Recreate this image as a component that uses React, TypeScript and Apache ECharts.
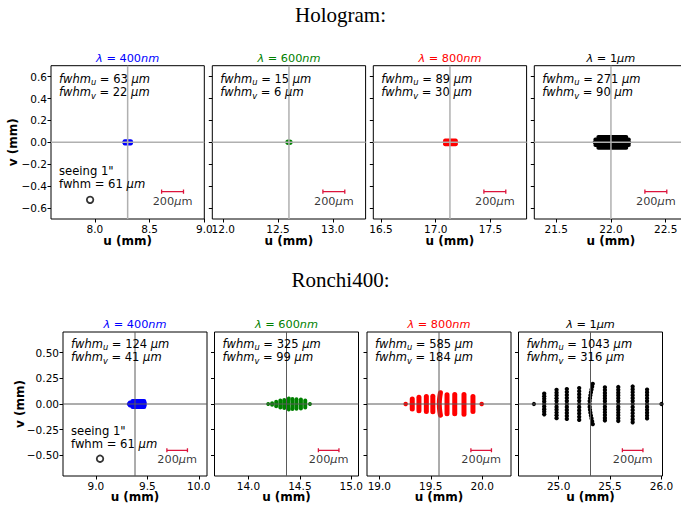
import React, { useEffect, useRef } from 'react';
import * as echarts from 'echarts';

// ---------------- data ----------------
const wavelengthValues = ['400', '600', '800', '1'];
const wavelengthUnits = ['nm', 'nm', 'nm', 'μm'];
const wavelengthColors = ['#0000ff', '#008000', '#ff0000', '#000000'];

// centre of each panel (mm) - each panel spans centre ± 0.7 mm in u and ± 0.7 mm in v
const hologramCenters = [8.3, 12.6, 17.13, 22.0];
const ronchiCenters = [9.38, 14.37, 19.58, 25.31];
const halfSpan = 0.7;

const hologramXTicks = [[8.0, 8.5, 9.0], [12.0, 12.5, 13.0], [16.5, 17.0, 17.5], [21.5, 22.0, 22.5]];
const ronchiXTicks = [[9.0, 9.5, 10.0], [14.0, 14.5, 15.0], [19.0, 19.5, 20.0], [25.0, 25.5, 26.0]];
const hologramYTicks = [-0.6, -0.4, -0.2, 0, 0.2, 0.4, 0.6];
const ronchiYTicks = [-0.5, -0.25, 0, 0.25, 0.5];

const hologramFwhmU = [63, 15, 89, 271];
const hologramFwhmV = [22, 6, 30, 90];
const ronchiFwhmU = [124, 325, 585, 1043];
const ronchiFwhmV = [41, 99, 184, 316];

const seeingArcsec = 1;
const seeingFwhm = 61;
const seeingHologram: [number, number] = [7.957, -0.525];
const seeingRonchi: [number, number] = [9.04, -0.532];

const scaleBarLabel = 200; // µm
const scaleBarLength = 0.2; // mm
const scaleBarStart = 0.31; // mm right of centre
const scaleBarV = -0.45;
const scaleBarCap = 0.02;
const scaleBarTextV = -0.54;

// Hologram spots (strokes composing each compact spot)
const hologram400 = [
  [[8.273, 0.01], [8.329, 0.01]],
  [[8.269, 0], [8.333, 0]],
  [[8.273, -0.01], [8.329, -0.01]],
];
const hologram600 = [[[12.592, 0], [12.608, 0]]];
const hologram800 = [
  [[17.086, 0.017], [17.183, 0.017]],
  [[17.082, 0], [17.187, 0]],
  [[17.086, -0.017], [17.183, -0.017]],
];
const hologram1um = [
  [[21.885, 0.05], [22.14, 0.05]],
  [[21.858, 0.025], [22.163, 0.025]],
  [[21.851, 0], [22.167, 0]],
  [[21.858, -0.025], [22.163, -0.025]],
  [[21.885, -0.05], [22.14, -0.05]],
];

// Ronchi400 spots
const ronchi400 = [
  [[9.355, 0.03], [9.47, 0.03]],
  [[9.33, 0.015], [9.474, 0.015]],
  [[9.319, 0], [9.474, 0]],
  [[9.33, -0.015], [9.474, -0.015]],
  [[9.355, -0.03], [9.47, -0.03]],
];
const ronchi600 = [
  [[14.23, 0.008], [14.23, -0.008]],
  [[14.27, 0.023], [14.27, -0.023]],
  [[14.31, 0.033], [14.31, -0.033]],
  [[14.348, 0.04], [14.348, -0.04]],
  [[14.392, 0.053], [14.388, 0.025], [14.387, 0], [14.388, -0.025], [14.392, -0.053]],
  [[14.428, 0.048], [14.428, -0.048]],
  [[14.467, 0.046], [14.467, -0.046]],
  [[14.51, 0.043], [14.51, -0.043]],
  [[14.552, 0.033], [14.552, -0.033]],
];
const ronchi600Dots = [[14.192, 0], [14.598, 0]];
const ronchi800 = [
  [[19.32, 0.049], [19.32, -0.049]],
  [[19.385, 0.065], [19.385, -0.065]],
  [[19.457, 0.073], [19.457, -0.073]],
  [[19.52, 0.076], [19.52, -0.076]],
  [[19.594, 0.11], [19.586, 0.055], [19.583, 0], [19.586, -0.055], [19.594, -0.11]],
  [[19.658, 0.09], [19.658, -0.096]],
  [[19.733, 0.093], [19.733, -0.096]],
  [[19.823, 0.093], [19.823, -0.1]],
  [[19.91, 0.073], [19.91, -0.073]],
];
const ronchi800Dots = [[19.256, 0], [19.995, 0]];
const ronchi1umColumns = [
  { u: 24.86, v: [0.1, 0.075, 0.05, 0.025, 0, -0.025, -0.05, -0.075, -0.1] },
  { u: 24.98, v: [0.138, 0.11, 0.083, 0.055, 0.028, 0, -0.028, -0.055, -0.083, -0.11, -0.138] },
  { u: 25.08, v: [0.145, 0.116, 0.087, 0.058, 0.029, 0, -0.029, -0.058, -0.087, -0.116, -0.145] },
  { u: 25.2, v: [0.155, 0.124, 0.093, 0.062, 0.031, 0, -0.031, -0.062, -0.093, -0.124, -0.155] },
  { u: 25.45, v: [0.162, 0.135, 0.108, 0.081, 0.054, 0.027, 0, -0.027, -0.054, -0.081, -0.108, -0.135, -0.16] },
  { u: 25.58, v: [0.165, 0.138, 0.11, 0.083, 0.055, 0.028, 0, -0.028, -0.055, -0.083, -0.11, -0.138, -0.165] },
  { u: 25.72, v: [0.17, 0.142, 0.114, 0.085, 0.057, 0.028, 0, -0.03, -0.06, -0.09, -0.12, -0.15, -0.178] },
  { u: 25.86, v: [0.14, 0.112, 0.084, 0.056, 0.028, 0, -0.028, -0.056, -0.084, -0.112, -0.14] },
];
const ronchi1umCurvedColumn = [
  [25.332, 0.196], [25.326, 0.168], [25.32, 0.14], [25.314, 0.112], [25.309, 0.084], [25.305, 0.056],
  [25.302, 0.028], [25.301, 0], [25.302, -0.028], [25.305, -0.056], [25.309, -0.084], [25.314, -0.112],
  [25.32, -0.14], [25.326, -0.168], [25.332, -0.196],
];
const ronchi1umEndDots = [[24.76, 0], [26.0, 0]];

// ---------------- layout (pixels) ----------------
const W = 681;
const H = 513;
const topLefts = [51, 212.3, 373.3, 534.3];
const topTop = 65.7;
const topSize = 153.3;
const botLefts = [63, 214.5, 367, 518.5];
const botTop = 332;
const botSize = 144;
const FF = '"DejaVu Sans"';

const minus = (s: string) => s.replace('-', '\u2212');
const fmt = (d: number) => (v: number) => minus((Math.abs(v) < 1e-9 ? 0 : v).toFixed(d));

export default function App() {
  const ref = useRef<HTMLDivElement>(null);

  useEffect(() => {
    const el = ref.current!;
    const chart = echarts.init(el, null, { renderer: 'svg', width: W, height: H });
    const canvas = document.createElement('canvas');
    const ctx = canvas.getContext('2d')!;
    const measure = (t: string, font: string) => {
      ctx.font = font;
      return ctx.measureText(t).width;
    };
    const fontOf = (kind: string, size: number) =>
      kind === 'i'
        ? `italic ${size}px ${FF}`
        : kind === 's'
        ? `italic ${(size * 0.72).toFixed(1)}px ${FF}`
        : kind === 'b'
        ? `bold ${size}px ${FF}`
        : `${size}px ${FF}`;

    const runs = (
      x0: number,
      y: number,
      parts: [string, string][],
      color: string,
      size: number,
      align: 'left' | 'center'
    ) => {
      const ws = parts.map(([t, k]) => measure(t, fontOf(k, size)));
      const total = ws.reduce((a, b) => a + b, 0);
      let x = align === 'center' ? x0 - total / 2 : x0;
      const out: any[] = [];
      parts.forEach(([t, k], i) => {
        const font = fontOf(k, size);
        const trimmed = t.trim();
        if (trimmed) {
          const lead = t.length - t.replace(/^\s+/, '').length;
          const dx = lead ? measure(t.slice(0, lead), font) : 0;
          out.push({
            type: 'text',
            x: x + dx,
            y: y + (k === 's' ? size * 0.3 : 0),
            silent: true,
            z: 100,
            style: {
              text: trimmed,
              font,
              fill: color,
              textAlign: 'left',
              textVerticalAlign: 'middle',
              align: 'left',
              verticalAlign: 'middle',
            },
          });
        }
        x += ws[i];
      });
      return out;
    };

    const grids: any[] = [];
    const xAxes: any[] = [];
    const yAxes: any[] = [];
    const series: any[] = [];
    const graphics: any[] = [];

    const topSpots = [hologram400, hologram600, hologram800, hologram1um];
    const topSpotWidth = [4, 5.5, 4, 4];
    const botSegs = [ronchi400, ronchi600, ronchi800, [] as number[][][]];
    const botSegWidth = [4, 4, 5, 0];
    const blackDots = [
      ...ronchi1umColumns.flatMap((c) => c.v.map((v) => [c.u, v])),
      ...ronchi1umCurvedColumn,
      ...ronchi1umEndDots,
    ];
    const botDots = [[] as number[][], ronchi600Dots, ronchi800Dots, blackDots];
    const botDotSize = [0, 4, 4.5, 4.3];

    for (let p = 0; p < 8; p++) {
      const top = p < 4;
      const k = p % 4;
      const left = top ? topLefts[k] : botLefts[k];
      const gTop = top ? topTop : botTop;
      const size = top ? topSize : botSize;
      const c = top ? hologramCenters[k] : ronchiCenters[k];
      const xTicks = top ? hologramXTicks[k] : ronchiXTicks[k];
      const yTicks = top ? hologramYTicks : ronchiYTicks;
      const color = wavelengthColors[k];

      grids.push({
        left,
        top: gTop,
        width: size,
        height: size,
        show: true,
        borderColor: '#000',
        borderWidth: 1,
        backgroundColor: 'transparent',
        containLabel: false,
        outerBoundsMode: 'none',
      });
      xAxes.push({
        type: 'value',
        gridIndex: p,
        min: c - halfSpan,
        max: c + halfSpan,
        axisLine: { show: false, onZero: false },
        axisTick: { show: true, length: 3.5, lineStyle: { color: '#000', width: 1 }, customValues: xTicks },
        axisLabel: {
          show: true,
          customValues: xTicks,
          formatter: fmt(1),
          color: '#000',
          fontSize: 10.5,
          fontFamily: 'DejaVu Sans',
          margin: 4,
          hideOverlap: false,
        },
        splitLine: { show: false },
      });
      yAxes.push({
        type: 'value',
        gridIndex: p,
        min: -halfSpan,
        max: halfSpan,
        axisLine: { show: false, onZero: false },
        axisTick: { show: true, length: 3.5, lineStyle: { color: '#000', width: 1 }, customValues: yTicks },
        axisLabel: {
          show: k === 0,
          customValues: yTicks,
          formatter: fmt(top ? 1 : 2),
          color: '#000',
          fontSize: 10.5,
          fontFamily: 'DejaVu Sans',
          margin: 4,
          hideOverlap: false,
        },
        splitLine: { show: false },
      });

      const base = { xAxisIndex: p, yAxisIndex: p, silent: true, animation: false };
      const segs = top ? topSpots[k] : botSegs[k];
      const segW = top ? topSpotWidth[k] : botSegWidth[k];
      segs.forEach((pts) => {
        series.push({
          ...base,
          type: 'line',
          data: pts,
          symbol: 'none',
          showSymbol: false,
          smooth: pts.length > 2 ? 0.5 : false,
          lineStyle: { color, width: segW, cap: 'round', join: 'round' },
          z: 2,
        });
      });
      if (!top && botDots[k].length) {
        series.push({
          ...base,
          type: 'scatter',
          data: botDots[k],
          symbol: 'circle',
          symbolSize: botDotSize[k],
          itemStyle: { color, opacity: 1 },
          z: 2,
        });
      }

      // crosshair
      const chColor = top ? '#b0b0b0' : '#5a5a5a';
      const chW = top ? 1.5 : 1;
      series.push({
        ...base,
        type: 'line',
        data: [[c, -halfSpan], [c, halfSpan]],
        symbol: 'none',
        lineStyle: { color: chColor, width: chW },
        z: 3,
      });
      series.push({
        ...base,
        type: 'line',
        data: [[c - halfSpan, 0], [c + halfSpan, 0]],
        symbol: 'none',
        lineStyle: { color: chColor, width: chW },
        z: 3,
      });

      // scale bar
      const x1 = c + scaleBarStart;
      const x2 = x1 + scaleBarLength;
      series.push({
        ...base,
        type: 'line',
        data: [
          [x1, scaleBarV + scaleBarCap],
          [x1, scaleBarV - scaleBarCap],
          [x1, scaleBarV],
          [x2, scaleBarV],
          [x2, scaleBarV + scaleBarCap],
          [x2, scaleBarV - scaleBarCap],
        ],
        symbol: 'none',
        lineStyle: { color: '#dc143c', width: 1.3 },
        z: 4,
      });
      series.push({
        ...base,
        type: 'scatter',
        data: [[(x1 + x2) / 2, scaleBarTextV]],
        symbolSize: 0,
        itemStyle: { color: 'transparent' },
        label: {
          show: true,
          position: 'inside',
          formatter: `{n|${scaleBarLabel}}{i|μ}{n|m}`,
          rich: {
            n: { fontFamily: 'DejaVu Sans', fontSize: 11.3, color: '#000' },
            i: { fontFamily: 'DejaVu Sans', fontSize: 11.3, fontStyle: 'italic', color: '#000' },
          },
        },
        z: 5,
      });

      // seeing disc
      if (k === 0) {
        series.push({
          ...base,
          type: 'scatter',
          data: [top ? seeingHologram : seeingRonchi],
          symbol: 'circle',
          symbolSize: 6.5,
          itemStyle: { color: 'transparent', borderColor: '#000', borderWidth: 1.8 },
          z: 5,
        });
        const sy = gTop + (top ? 105.3 : 99);
        graphics.push(...runs(left + 8, sy, [[`seeing ${seeingArcsec}"`, 'n']], '#000', 11.6, 'left'));
        graphics.push(
          ...runs(left + 8, sy + 13, [[`fwhm = ${seeingFwhm} `, 'n'], ['μm', 'i']], '#000', 11.6, 'left')
        );
      }

      // fwhm annotations
      const fu = top ? hologramFwhmU[k] : ronchiFwhmU[k];
      const fv = top ? hologramFwhmV[k] : ronchiFwhmV[k];
      const fy = gTop + (top ? 13.3 : 12);
      graphics.push(
        ...runs(left + 8, fy, [['fwhm', 'i'], ['u', 's'], [' = ', 'n'], [`${fu}`, 'n'], [' ', 'n'], ['μm', 'i']], '#000', 11.5, 'left')
      );
      graphics.push(
        ...runs(left + 8, fy + 13.3, [['fwhm', 'i'], ['v', 's'], [' = ', 'n'], [`${fv}`, 'n'], [' ', 'n'], ['μm', 'i']], '#000', 11.5, 'left')
      );

      // panel title
      graphics.push(
        ...runs(
          left + size / 2,
          gTop - 7.3,
          [['λ', 'i'], [' = ', 'n'], [wavelengthValues[k], 'n'], [wavelengthUnits[k], 'i']],
          color,
          11.3,
          'center'
        )
      );
      // u label
      graphics.push(...runs(left + size / 2, gTop + size + (top ? 22 : 21), [['u (mm)', 'b']], '#000', 12, 'center'));
    }

    // v labels
    graphics.push({
      type: 'text',
      x: 13.3,
      y: topTop + topSize / 2,
      rotation: Math.PI / 2,
      silent: true,
      style: { text: 'v (mm)', font: `bold 12px ${FF}`, fill: '#000', textAlign: 'center', textVerticalAlign: 'middle', align: 'center', verticalAlign: 'middle' },
    });
    graphics.push({
      type: 'text',
      x: 20,
      y: botTop + botSize / 2,
      rotation: Math.PI / 2,
      silent: true,
      style: { text: 'v (mm)', font: `bold 12px ${FF}`, fill: '#000', textAlign: 'center', textVerticalAlign: 'middle', align: 'center', verticalAlign: 'middle' },
    });
    // figure titles
    graphics.push({
      type: 'text',
      x: 340.5,
      y: 15,
      silent: true,
      style: { text: 'Hologram:', font: `21px "Liberation Serif"`, fill: '#000', textAlign: 'center', textVerticalAlign: 'middle', align: 'center', verticalAlign: 'middle' },
    });
    graphics.push({
      type: 'text',
      x: 340.5,
      y: 280,
      silent: true,
      style: { text: 'Ronchi400:', font: `21px "Liberation Serif"`, fill: '#000', textAlign: 'center', textVerticalAlign: 'middle', align: 'center', verticalAlign: 'middle' },
    });

    chart.setOption({
      animation: false,
      backgroundColor: '#ffffff',
      grid: grids,
      xAxis: xAxes,
      yAxis: yAxes,
      series,
      graphic: { elements: graphics },
    });

    return () => {
      chart.dispose();
    };
  }, []);

  return (
    <div
      ref={ref}
      style={{ position: 'absolute', left: 0, top: 0, width: W, height: H, background: '#fff', overflow: 'hidden' }}
    />
  );
}
